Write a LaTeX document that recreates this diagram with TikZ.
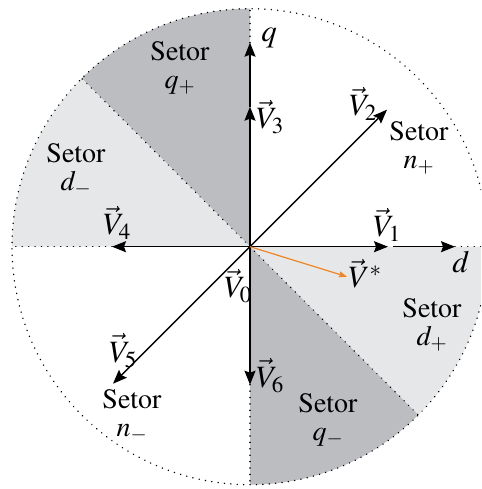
\documentclass[tikz,border=0pt]{standalone}
\usepackage[T1]{fontenc}
\usepackage{mathptmx}
\usetikzlibrary{arrows.meta}
\definecolor{darksector}{RGB}{188,189,192}
\definecolor{lightsector}{RGB}{230,231,232}
\definecolor{refvec}{RGB}{242,133,34}

\begin{document}
\begin{tikzpicture}[
    x=1pt, y=1pt,
    vec/.style={-{Stealth[length=14pt, width=11pt, inset=2pt]}, line width=1.4pt},
    refarrow/.style={-{Stealth[length=8pt, width=6pt, inset=1pt]}, line width=1.2pt, color=refvec},
    border/.style={line width=1.6pt, dash pattern=on 0.01pt off 6.4pt, line cap=round},
    veclabel/.style={font=\fontsize{31}{32}\selectfont, inner sep=0pt},
    setor/.style={font=\fontsize{28}{28}\selectfont, align=center, inner sep=0pt}
]
\useasboundingbox (-250,-242.3) rectangle (231,246.7);
\begin{scope}
\clip (-250,-242.3) rectangle (231,246.7);

\coordinate (O) at (0,0);
% sectors
\fill[darksector]  (O) -- (90:238)  arc[start angle=90,  end angle=135, radius=238pt] -- cycle;
\fill[lightsector] (O) -- (135:238) arc[start angle=135, end angle=180, radius=238pt] -- cycle;
\fill[lightsector] (O) -- (0:238)   arc[start angle=0,   end angle=-45, radius=238pt] -- cycle;
\fill[darksector]  (O) -- (-45:238) arc[start angle=-45, end angle=-90, radius=238pt] -- cycle;

% vector ends
\coordinate (v1) at (138,0);
\coordinate (v2) at (137,137);
\coordinate (v3) at (0,140);
\coordinate (v4) at (-138,0);
\coordinate (v5) at (-137,-137);
\coordinate (v6) at (0,-138);
\coordinate (vref) at (97,-30);
\coordinate (d0) at (143,0);
\coordinate (d1) at (205,0);
\coordinate (q0) at (0,140);
\coordinate (q1) at (0,204);

% borders
\draw[border] (O) circle[radius=238pt];
\draw[border] (O) -- (135:238);
\draw[border] (O) -- (-45:238);
\draw[border] (v4) -- (180:238);
\draw[border] (d1) -- (0:238);
\draw[border] (q1) -- (90:238);
\draw[border] (v6) -- (-90:238);

% vectors
\draw[vec] (O) -- (v1);
\draw[vec] (O) -- (v2);
\draw[vec] (O) -- (v3);
\draw[vec] (O) -- (v4);
\draw[vec] (O) -- (v5);
\draw[vec] (O) -- (v6);
\draw[vec] (d0) -- (d1);
\draw[vec] (q0) -- (q1);
\draw[refarrow] (O) -- (vref);
\end{scope}

% labels
\node[veclabel] (l1) at (137,22)    {$\vec{V}_1$};
\node[veclabel] (l2) at (113,143)   {$\vec{V}_2$};
\node[veclabel] (l3) at (20,130)    {$\vec{V}_3$};
\node[veclabel] (l4) at (-133,24)   {$\vec{V}_4$};
\node[veclabel] (l5) at (-127,-104) {$\vec{V}_5$};
\node[veclabel] (l6) at (20,-129)   {$\vec{V}_6$};
\node[veclabel] (l0) at (-12,-39)   {$\vec{V}_0$};
\node[veclabel] (lref) at (115,-27) {$\vec{V}^{*}$};
\node[veclabel] (ld) at (211,-15)   {$d$};
\node[veclabel] (lq) at (19,209)    {$q$};

\node[setor] (sqp) at (-70,179)  {Setor\\$q_{+}$};
\node[setor] (sdm) at (-174,77)  {Setor\\$d_{-}$};
\node[setor] (snp) at (169,99)   {Setor\\$n_{+}$};
\node[setor] (sdp) at (182,-78)  {Setor\\$d_{+}$};
\node[setor] (sqm) at (78,-173)  {Setor\\$q_{-}$};
\node[setor] (snm) at (-118,-169) {Setor\\$n_{-}$};
\end{tikzpicture}
\end{document}
